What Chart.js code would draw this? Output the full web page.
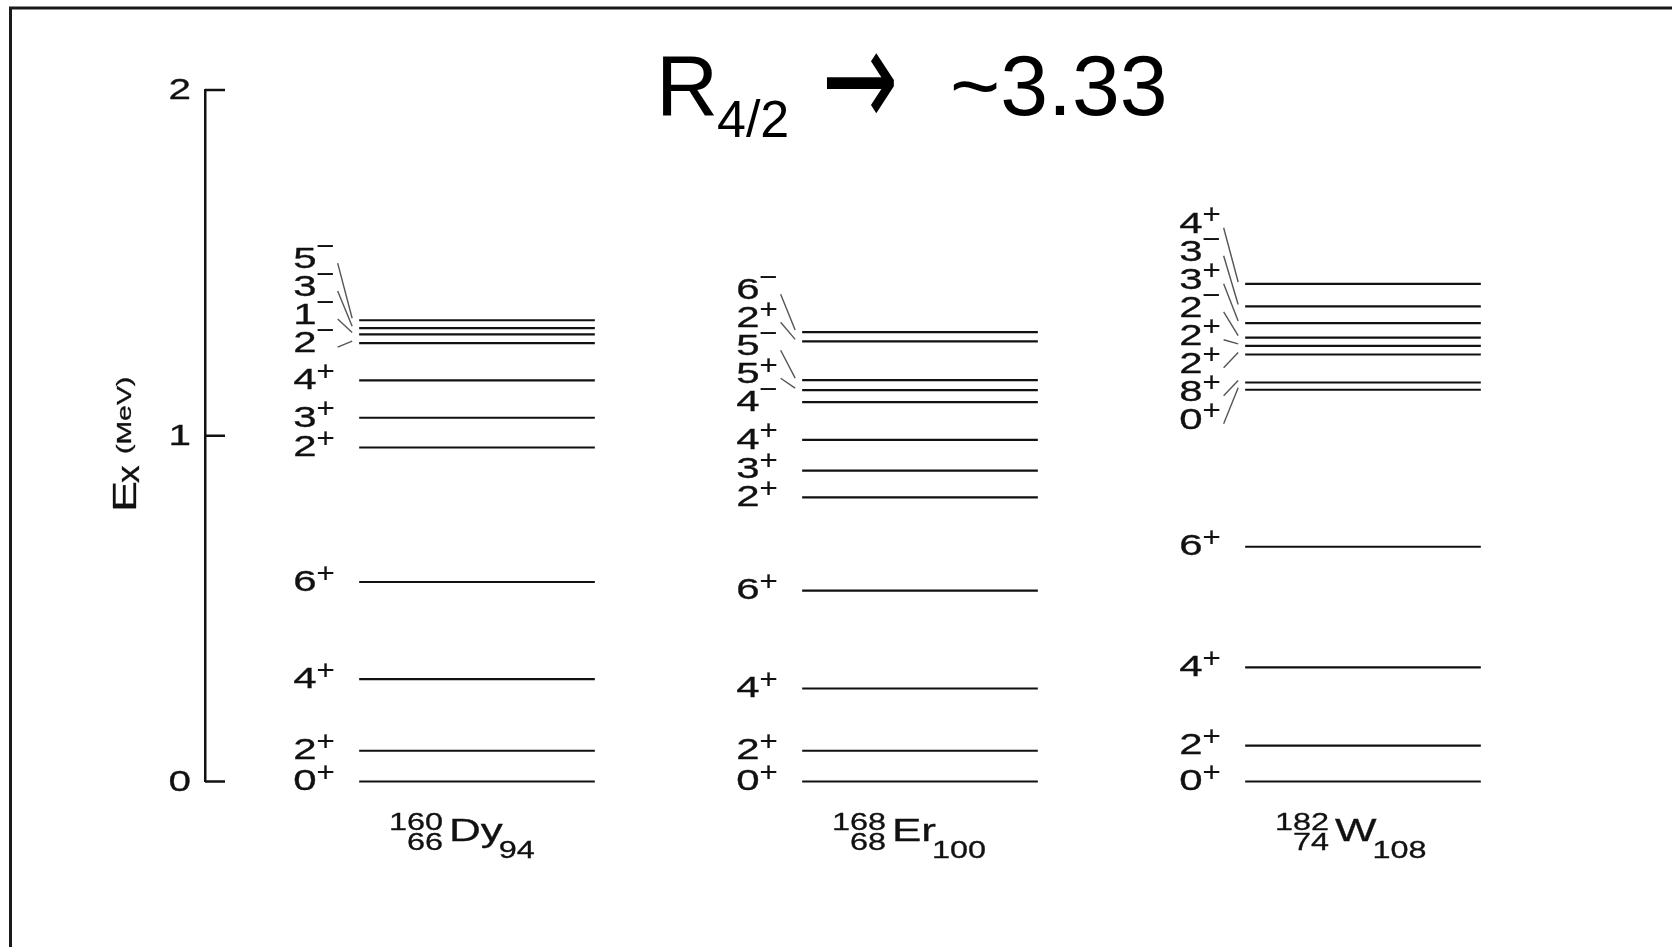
<!DOCTYPE html>
<html>
<head>
<meta charset="utf-8">
<script src="https://cdn.jsdelivr.net/npm/chart.js@4.4.1/dist/chart.umd.min.js"></script>
<style>
  html, body { margin: 0; padding: 0; background: #ffffff; }
  canvas { display: block; }
</style>
</head>
<body>
<canvas id="scheme" width="1672" height="947"></canvas>
<script>
// Nuclei drawn side by side
const elements = ['Dy', 'Er', 'W'];
const massNumbers = ['160', '168', '182'];
const protonNumbers = ['66', '68', '74'];
const neutronNumbers = ['94', '100', '108'];

// Excitation energies (MeV) and spin-parity of each level
const dyEnergies = [0, 0.089, 0.296, 0.577, 0.966, 1.052, 1.160, 1.268, 1.293, 1.311, 1.334];
const dySpins    = ['0+', '2+', '4+', '6+', '2+', '3+', '4+', '2−', '1−', '3−', '5−'];
const erEnergies = [0, 0.089, 0.269, 0.552, 0.822, 0.899, 0.988, 1.097, 1.132, 1.161, 1.273, 1.300];
const erSpins    = ['0+', '2+', '4+', '6+', '2+', '3+', '4+', '4−', '5+', '5−', '2+', '6−'];
const wEnergies  = [0, 0.104, 0.330, 0.679, 1.133, 1.154, 1.235, 1.260, 1.284, 1.326, 1.374, 1.439];
const wSpins     = ['0+', '2+', '4+', '6+', '0+', '8+', '2+', '2+', '2−', '3+', '3−', '4+'];

// Energy axis
const yTicks = [0, 1, 2];
const axisSymbol = 'E';
const axisSubscript = 'x';
const axisUnit = '(MeV)';

// Heading
const titleMain = 'R';
const titleSub = '4/2';
const titleArrow = '→';
const titleValue = '~3.33';

const levelSets = [dyEnergies, erEnergies, wEnergies];
const spinSets = [dySpins, erSpins, wSpins];

// Layout of the drawing
const HALF_WIDTH = 0.266;      // half length of a level line, in column units
const LABEL_GAP = 28;          // minimum vertical spacing of spin labels (px)
const LABEL_DROP = [0, 0, 30]; // downward shift of the crowded upper label group
const TEXT_STRETCH = 1.4;
const FONT = '"Liberation Sans", Arial, Helvetica, sans-serif';
const INK = '#111111';

const datasets = [];
levelSets.forEach((levels, col) => {
  levels.forEach((e, i) => {
    datasets.push({
      label: elements[col] + ' ' + spinSets[col][i],
      data: [{ x: col - HALF_WIDTH, y: e }, { x: col + HALF_WIDTH, y: e }],
      borderColor: INK,
      borderWidth: 2.2,
      pointRadius: 0,
      tension: 0,
      fill: false,
      clip: false
    });
  });
});

// text drawn wide, with a faint outline to give it some weight
function stretchedText(ctx, text, x, y, font, sx, weight) {
  ctx.save();
  ctx.font = font;
  ctx.translate(x, y);
  ctx.scale(sx, 1);
  ctx.fillText(text, 0, 0);
  if (weight) {
    ctx.lineWidth = weight;
    ctx.strokeStyle = ctx.fillStyle;
    ctx.strokeText(text, 0, 0);
  }
  ctx.restore();
}
function stretchedWidth(ctx, text, font, sx) {
  ctx.save();
  ctx.font = font;
  const w = ctx.measureText(text).width * sx;
  ctx.restore();
  return w;
}

const backdrop = {
  id: 'backdrop',
  beforeDraw(chart) {
    const ctx = chart.ctx;
    ctx.save();
    ctx.fillStyle = '#ffffff';
    ctx.fillRect(0, 0, chart.width, chart.height);
    ctx.strokeStyle = '#1a1a1a';
    ctx.lineWidth = 3;
    ctx.beginPath();
    ctx.moveTo(10.5, chart.height + 2);
    ctx.lineTo(10.5, 8);
    ctx.lineTo(chart.width + 2, 8);
    ctx.stroke();
    ctx.restore();
  }
};

const energyAxisDecor = {
  id: 'energyAxisDecor',
  afterDraw(chart) {
    const ctx = chart.ctx;
    const ys = chart.scales.y;
    const x0 = chart.chartArea.left;
    ctx.save();
    ctx.strokeStyle = '#111';
    ctx.lineWidth = 2.5;
    ctx.fillStyle = '#111';
    ctx.textAlign = 'left';
    ctx.textBaseline = 'alphabetic';
    const tickFont = '30px ' + FONT;
    ys.ticks.forEach(t => {
      const py = ys.getPixelForValue(t.value);
      ctx.beginPath();
      ctx.moveTo(x0, py);
      ctx.lineTo(x0 + 20, py);
      ctx.stroke();
      const txt = String(t.value);
      const w = stretchedWidth(ctx, txt, tickFont, 1.35);
      stretchedText(ctx, txt, 191 - w, py - 1.5 + 10.75, tickFont, 1.35, 0.3);
    });

    // rotated axis title
    ctx.translate(136, 512);
    ctx.rotate(-Math.PI / 2);
    const symFont = '34px ' + FONT;
    const subFont = '32px ' + FONT;
    const unitFont = '20px ' + FONT;
    stretchedText(ctx, axisSymbol, 0, 0, symFont, 1.37, 0.3);
    stretchedText(ctx, axisSubscript, 29, 3, subFont, 1.1, 0.3);
    stretchedText(ctx, axisUnit, 58, -5, unitFont, 1.42, 0.3);
    ctx.restore();
  }
};

const levelLabels = {
  id: 'levelLabels',
  afterDatasetsDraw(chart) {
    const ctx = chart.ctx;
    const xs = chart.scales.x;
    const ys = chart.scales.y;
    ctx.save();
    ctx.textBaseline = 'alphabetic';
    ctx.textAlign = 'left';
    const digitFont = '30px ' + FONT;
    const signFont = '27px ' + FONT;

    levelSets.forEach((levels, col) => {
      const spins = spinSets[col];
      const lineStart = xs.getPixelForValue(col - HALF_WIDTH);
      const lineY = levels.map(e => ys.getPixelForValue(e));
      // stack labels upward so they keep a minimum spacing
      const lab = [];
      lineY.forEach((y, i) => lab.push(i === 0 ? y : Math.min(y, lab[i - 1] - LABEL_GAP)));
      const labY = lab.map((y, i) => levels[i] >= 1 ? y + LABEL_DROP[col] : y);

      const lx = lineStart - 66;
      labY.forEach((ly, i) => {
        const spin = spins[i];
        const digit = spin.slice(0, -1);
        const sign = spin.slice(-1);
        const cy = ly - 2;
        ctx.fillStyle = '#111';
        stretchedText(ctx, digit, lx, cy + 10.75, digitFont, TEXT_STRETCH, 0.3);
        const dW = stretchedWidth(ctx, digit, digitFont, TEXT_STRETCH);
        const sBase = sign === '+' ? cy + 1.5 : cy - 1.8;
        stretchedText(ctx, sign, lx + dW, sBase, signFont, 1.15, 0.2);
        const sW = stretchedWidth(ctx, sign, signFont, 1.15);

        // leader line from a displaced or crowded label to its level
        const prev = i > 0 ? Math.abs(lineY[i] - lineY[i - 1]) : Infinity;
        const next = i < lineY.length - 1 ? Math.abs(lineY[i + 1] - lineY[i]) : Infinity;
        const displaced = Math.abs(ly - lineY[i]) > 1.5;
        if (displaced || Math.min(prev, next) < 10) {
          ctx.strokeStyle = '#555';
          ctx.lineWidth = 1.4;
          ctx.beginPath();
          ctx.moveTo(lx + dW + sW + 3, cy + 6);
          ctx.lineTo(lineStart - 7, lineY[i] - 2);
          ctx.stroke();
        }
      });

      // nucleus symbol below the column
      const center = xs.getPixelForValue(col);
      const elFont = '31px ' + FONT;
      const numFont = '24px ' + FONT;
      const ex = center - 28;
      const elBase = 841;
      ctx.fillStyle = '#111';
      stretchedText(ctx, elements[col], ex, elBase, elFont, 1.42, 0.3);
      const elW = stretchedWidth(ctx, elements[col], elFont, 1.42);
      const mW = stretchedWidth(ctx, massNumbers[col], numFont, 1.35);
      stretchedText(ctx, massNumbers[col], ex - 6 - mW, elBase - 11, numFont, 1.35, 0.3);
      const zW = stretchedWidth(ctx, protonNumbers[col], numFont, 1.35);
      stretchedText(ctx, protonNumbers[col], ex - 6 - zW, elBase + 9, numFont, 1.35, 0.3);
      stretchedText(ctx, neutronNumbers[col], ex + elW - 4, elBase + 17, numFont, 1.35, 0.3);
    });
    ctx.restore();
  }
};

const heading = {
  id: 'heading',
  afterDraw(chart) {
    const ctx = chart.ctx;
    ctx.save();
    ctx.fillStyle = '#000';
    ctx.textBaseline = 'alphabetic';
    ctx.textAlign = 'left';
    const big = '86px ' + FONT;
    const small = '52px ' + FONT;
    stretchedText(ctx, titleMain, 656, 115, big, 1);
    stretchedText(ctx, titleSub, 717, 137, small, 1);
    // arrow glyph fitted into its box
    ctx.font = '86px "DejaVu Sans"';
    const m = ctx.measureText(titleArrow);
    const gw = m.actualBoundingBoxLeft + m.actualBoundingBoxRight;
    const gh = m.actualBoundingBoxAscent + m.actualBoundingBoxDescent;
    const bx = 826, by = 52, bw = 68, bh = 62;
    ctx.translate(bx, by);
    ctx.scale(bw / gw, bh / gh);
    ctx.fillText(titleArrow, m.actualBoundingBoxLeft, m.actualBoundingBoxAscent);
    ctx.setTransform(1, 0, 0, 1, 0, 0);
    stretchedText(ctx, titleValue, 950, 115, big, 1);
    ctx.restore();
  }
};

new Chart(document.getElementById('scheme'), {
  type: 'line',
  data: { datasets },
  options: {
    responsive: false,
    devicePixelRatio: 1,
    animation: false,
    events: [],
    layout: { padding: { top: 90, bottom: 165.5, left: 0, right: 72 } },
    plugins: { legend: { display: false }, title: { display: false }, tooltip: { enabled: false } },
    scales: {
      x: { type: 'linear', min: -0.614, max: 2.535, display: false },
      y: {
        type: 'linear',
        position: 'left',
        min: 0,
        max: 2,
        afterBuildTicks(scale) { scale.ticks = yTicks.map(v => ({ value: v })); },
        afterFit(scale) { scale.width = 205; },
        ticks: { display: false, stepSize: 1 },
        grid: { display: true, drawOnChartArea: false, drawTicks: false },
        border: { display: true, color: '#111', width: 2.5 }
      }
    }
  },
  plugins: [backdrop, levelLabels, energyAxisDecor, heading]
});
</script>
</body>
</html>
